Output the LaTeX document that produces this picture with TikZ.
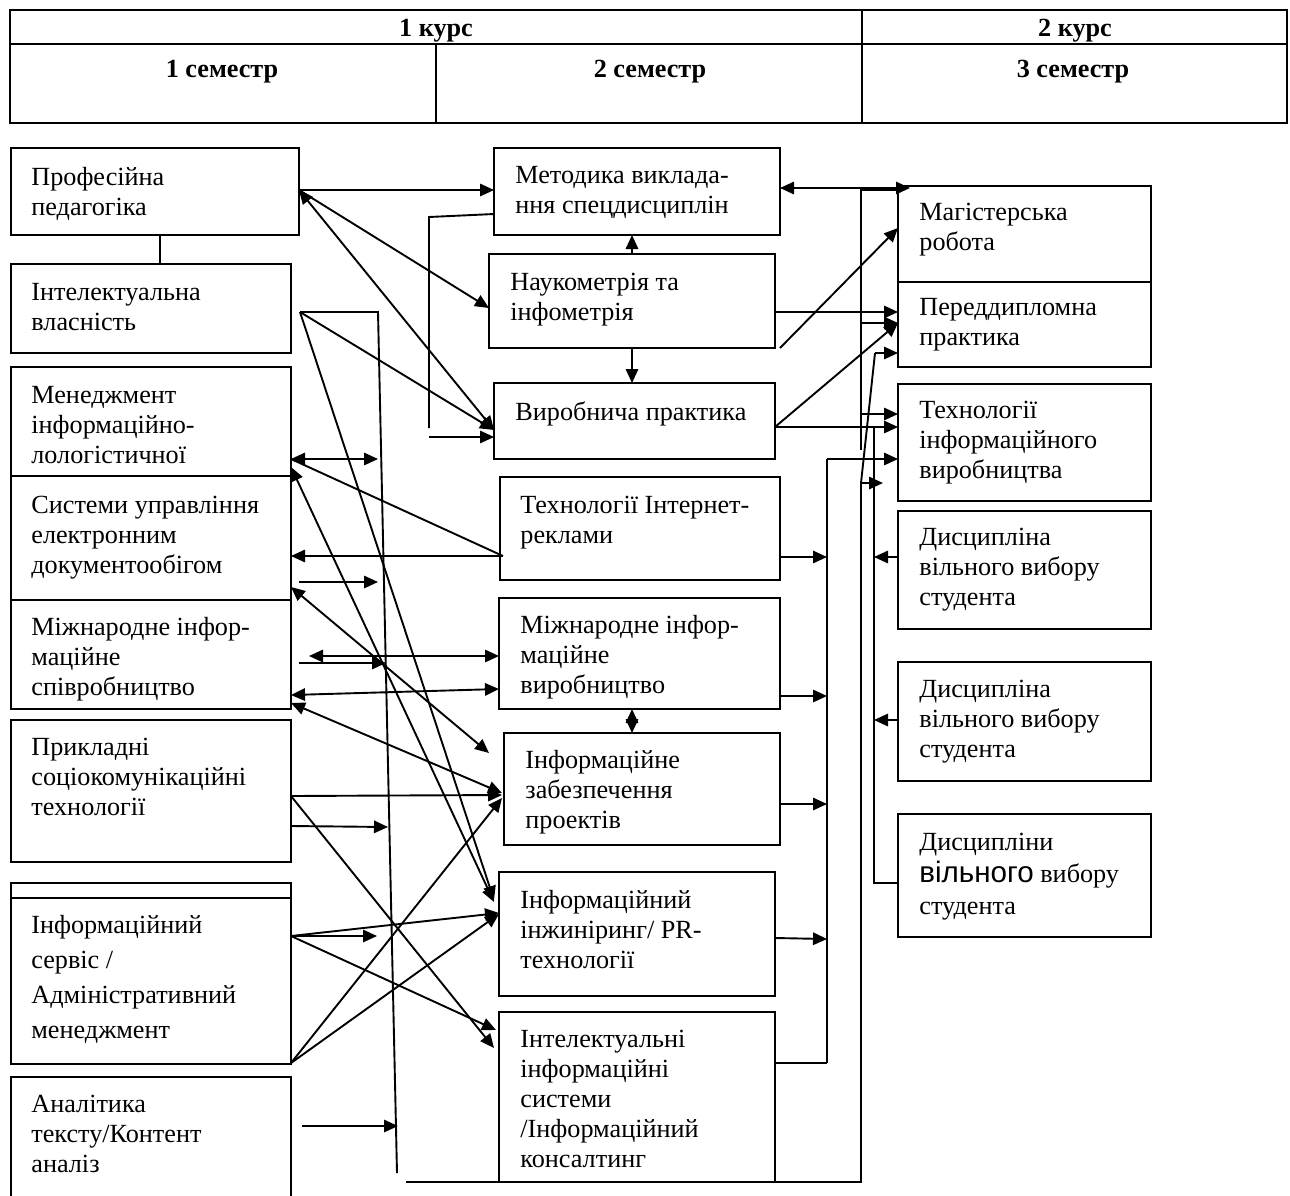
\documentclass[tikz,border=0pt]{standalone}
\usepackage{fontspec}
\setmainfont{Liberation Serif}
\newfontfamily\sansf{Liberation Sans}
\usetikzlibrary{arrows.meta,fit,calc}
\begin{document}
\begin{tikzpicture}[x=0.5pt,y=-0.5pt,
  box/.style={draw, line width=0.9pt, inner sep=0pt, outer sep=0pt},
  txt/.style={anchor=north west, inner sep=0pt, align=left, font=\fontsize{13.1}{15}\selectfont},
  hdr/.style={anchor=base, inner sep=0pt, font=\fontsize{13.1}{15}\selectfont\bfseries},
  conn/.style={line width=0.95pt},
  arr/.style={conn, -{Triangle[length=7pt,width=6.2pt]}},
  darr/.style={conn, {Triangle[length=7pt,width=6.2pt]}-{Triangle[length=7pt,width=6.2pt]}},
]
\clip (0,0) rectangle (1290,1195);
\fill[white] (0,0) rectangle (1290,1195);
% header table
\draw[line width=1.1pt] (10,10) rectangle (1287,123);
\draw[line width=1.1pt] (10,44) -- (1287,44);
\draw[line width=1.1pt] (862,10) -- (862,123);
\draw[line width=0.9pt] (436,44) -- (436,123);
\node[hdr] (k1) at (436,36) {1 курс};
\node[hdr] (k2) at (1075,36) {2 курс};
\node[hdr] (s1) at (222,77) {1 семестр};
\node[hdr] (s2) at (650,77) {2 семестр};
\node[hdr] (s3) at (1073,77) {3 семестр};
% left boxes
\node[box, fit={(11,148) (299,235)}] (pp) {};
\node[box, fit={(11,264) (291,353)}] (ia) {};
\node[box, fit={(11,367) (291,476)}] (mil) {};
\node[box, fit={(11,476) (291,600)}] (seu) {};
\node[box, fit={(11,600) (291,709)}] (mis) {};
\node[box, fit={(11,720) (291,862)}] (pst) {};
\node[box, fit={(11,883) (291,1064)}] (isa) {};
\node[box, fit={(11,1077) (291,1240)}] (atk) {};
\draw[line width=0.9pt] (isa.west |- 0,898) -- (isa.east |- 0,898);
\node[txt] (pp-t) at (31,165) {\rule{0pt}{10pt}Професійна\\педагогіка};
\node[txt] (ia-t) at (31,280) {\rule{0pt}{10pt}Інтелектуальна\\власність};
\node[txt] (mil-t) at (31,383) {\rule{0pt}{10pt}Менеджмент\\інформаційно-\\лологістичної};
\node[txt] (seu-t) at (31,493) {\rule{0pt}{10pt}Системи управління\\електронним\\документообігом};
\node[txt] (mis-t) at (31,615) {\rule{0pt}{10pt}Міжнародне інфор-\\маційне\\співробництво};
\node[txt] (pst-t) at (31,735) {\rule{0pt}{10pt}Прикладні\\соціокомунікаційні\\технології};
\node[txt, font=\fontsize{13.1}{17.5}\selectfont] (isa-t) at (31,913) {\rule{0pt}{10pt}Інформаційний\\сервіс /\\Адміністративний\\менеджмент};
\node[txt] (atk-t) at (31,1092) {\rule{0pt}{10pt}Аналітика\\тексту/Контент\\аналіз};
% middle boxes
\node[box, fit={(494,148) (780,235)}] (met) {};
\node[box, fit={(489,254) (775,348)}] (nauk) {};
\node[box, fit={(494,383) (775,459)}] (vyr) {};
\node[box, fit={(500,477) (780,580)}] (tir) {};
\node[box, fit={(499,598) (780,709)}] (miv) {};
\node[box, fit={(504,733) (780,845)}] (izp) {};
\node[box, fit={(499,872) (775,996)}] (iin) {};
\node[box, fit={(499,1012) (775,1182)}] (iis) {};
\node[txt] (met-t) at (515,163) {\rule{0pt}{10pt}Методика виклада-\\ння спецдисциплін};
\node[txt] (nauk-t) at (510,270) {\rule{0pt}{10pt}Наукометрія та\\інфометрія};
\node[txt] (vyr-t) at (515,400) {\rule{0pt}{10pt}Виробнича практика};
\node[txt] (tir-t) at (520,493) {\rule{0pt}{10pt}Технології Інтернет-\\реклами};
\node[txt] (miv-t) at (520,613) {\rule{0pt}{10pt}Міжнародне інфор-\\маційне\\виробництво};
\node[txt] (izp-t) at (525,748) {\rule{0pt}{10pt}Інформаційне\\забезпечення\\проектів};
\node[txt] (iin-t) at (520,888) {\rule{0pt}{10pt}Інформаційний\\інжиніринг/ PR-\\технології};
\node[txt] (iis-t) at (520,1027) {\rule{0pt}{10pt}Інтелектуальні\\інформаційні\\системи\\/Інформаційний\\консалтинг};
% right boxes
\node[box, fit={(898,186) (1151,282)}] (mag) {};
\node[box, fit={(898,282) (1151,367)}] (pdp) {};
\node[box, fit={(898,384) (1151,501)}] (tiv) {};
\node[box, fit={(898,511) (1151,629)}] (dv1) {};
\node[box, fit={(898,662) (1151,781)}] (dv2) {};
\node[box, fit={(898,814) (1151,937)}] (dv3) {};
\node[txt] (mag-t) at (919,200) {\rule{0pt}{10pt}Магістерська\\робота};
\node[txt] (pdp-t) at (919,295) {\rule{0pt}{10pt}Переддипломна\\практика};
\node[txt] (tiv-t) at (919,398) {\rule{0pt}{10pt}Технології\\інформаційного\\виробництва};
\node[txt] (dv1-t) at (919,525) {\rule{0pt}{10pt}Дисципліна\\вільного вибору\\студента};
\node[txt] (dv2-t) at (919,677) {\rule{0pt}{10pt}Дисципліна\\вільного вибору\\студента};
\node[txt, font=\fontsize{13.1}{16}\selectfont] (dv3-t) at (919,830) {\rule{0pt}{10pt}Дисципліни\\{\sansf\fontsize{14.8}{16}\selectfont вільного} вибору\\студента};
% named free points
\coordinate (iaP) at (300,312);
\coordinate (vTop) at (378,312);
\coordinate (vBot) at (397,1173);
\coordinate (t1) at (378,459);
\coordinate (t2) at (378,582);
\coordinate (t3) at (386,663);
\coordinate (t4) at (388,827);
\coordinate (t5) at (377,936);
\coordinate (t6) at (398,1126);
\coordinate (metL) at (429,217);
\coordinate (metLb) at (429,428);
\coordinate (vyrA) at (429,437);
\coordinate (magT) at (910,188);
\coordinate (busA) at (861,190);
\coordinate (busAend) at (861,450);
\coordinate (busB) at (827,459);
\coordinate (busBend) at (827,1063);
\coordinate (busC) at (874,427);
\coordinate (busCend) at (874,883);
\coordinate (botL) at (406,1182);
\coordinate (busD) at (861,1182);
\coordinate (busDtop) at (861,483);
\coordinate (busDk) at (875,353);
\coordinate (busDa) at (883,483);
% left column links
\draw[conn] ($(pp.south west)+(149,0)$) -- ($(ia.north west)+(149,0)$);
\draw[arr] (pp.east |- 0,190) -- (met.west |- 0,190);
\draw[arr] (pp.east |- 0,190) -- (nauk.west |- 0,308);
\draw[darr] (pp.east |- 0,190) -- (vyr.west |- 0,430);
\draw[conn] (iaP) -- (vTop) -- (vBot);
\draw[arr] (iaP) -- (vyr.west |- 0,430);
\draw[arr] (iaP) -- ($(iin.west |- 0,900)+(-5,0)$);
\draw[darr] (mil.east |- 0,459) -- (t1);
\draw[conn] ($(tir.west |- 0,556)+(3,0)$) -- (mil.east |- 0,459);
\draw[darr] (mil.east |- 0,467) -- ($(iin.west |- 0,902)+(-5,0)$);
\draw[arr] ($(tir.west |- 0,556)+(3,0)$) -- (seu.east |- 0,556);
\draw[arr] ($(seu.east |- 0,582)+(8,0)$) -- (t2);
\draw[darr] (seu.east |- 0,587) -- ($(izp.west |- 0,753)+(-15,0)$);
\draw[darr] ($(mis.east |- 0,656)+(18,0)$) -- (miv.west |- 0,656);
\draw[arr] ($(mis.east |- 0,663)+(8,0)$) -- (t3);
\draw[darr] (mis.east |- 0,695) -- (miv.west |- 0,689);
\draw[darr] (mis.east |- 0,703) -- ($(izp.west |- 0,793)+(-2,0)$);
\draw[arr] (pst.east |- 0,796) -- ($(izp.west |- 0,795)+(-2,0)$);
\draw[arr] (pst.east |- 0,826) -- (t4);
\draw[arr] (pst.east |- 0,796) -- ($(iis.west |- 0,1048)+(-5,0)$);
\draw[arr] (isa.east |- 0,936) -- (iin.west |- 0,913);
\draw[arr] (isa.east |- 0,936) -- (t5);
\draw[arr] (isa.east |- 0,936) -- ($(iis.west |- 0,1030)+(-3,0)$);
\draw[arr] (isa.east |- 0,1063) -- ($(izp.west |- 0,798)+(-2,0)$);
\draw[arr] (isa.east |- 0,1063) -- (iin.west |- 0,914);
\draw[arr] ($(atk.east |- 0,1126)+(11,0)$) -- (t6);
% middle column links
\draw[arr] (nauk.north) -- (nauk.north |- met.south);
\draw[arr] (nauk.south) -- (nauk.south |- vyr.north);
\draw[darr] (miv.south -| nauk.south) -- (izp.north -| nauk.south);
\draw[conn] (met.west |- 0,214) -- (metL) -- (metLb);
\draw[arr] (vyrA) -- (vyr.west |- vyrA);
% right side links
\draw[darr] (met.east |- magT) -- (magT);
\draw[conn] (busAend) -- (busA) -- (mag.west |- busA);
\draw[arr] (nauk.east |- 0,312) -- (pdp.west |- 0,312);
\draw[arr] ($(nauk.south east)+(5,0)$) -- (mag.west |- 0,228);
\draw[arr] (vyr.east |- 0,427) -- (pdp.west |- 0,323);
\draw[arr] (vyr.east |- 0,427) -- (tiv.west |- 0,427);
\draw[arr] (busA |- 0,323) -- (pdp.west |- 0,323);
\draw[arr] (busA |- 0,414) -- (tiv.west |- 0,414);
\draw[conn] (busBend) -- (busB);
\draw[arr] (busB) -- (tiv.west |- busB);
\draw[arr] (tir.east |- 0,557) -- (busB |- 0,557);
\draw[arr] (miv.east |- 0,696) -- (busB |- 0,696);
\draw[arr] (izp.east |- 0,804) -- (busB |- 0,804);
\draw[arr] (iin.east |- 0,938) -- (busB |- 0,939);
\draw[conn] (iis.east |- busBend) -- (busBend);
\draw[conn] (botL) -- (busD) -- (busDtop) -- (busDk);
\draw[arr] (busDk) -- (pdp.west |- busDk);
\draw[arr] (busDtop) -- (busDa);
\draw[conn] (busC) -- (busCend) -- (dv3.west |- busCend);
\draw[arr] (dv1.west |- 0,557) -- (busC |- 0,557);
\draw[arr] (dv2.west |- 0,720) -- (busC |- 0,720);
\end{tikzpicture}
\end{document}
